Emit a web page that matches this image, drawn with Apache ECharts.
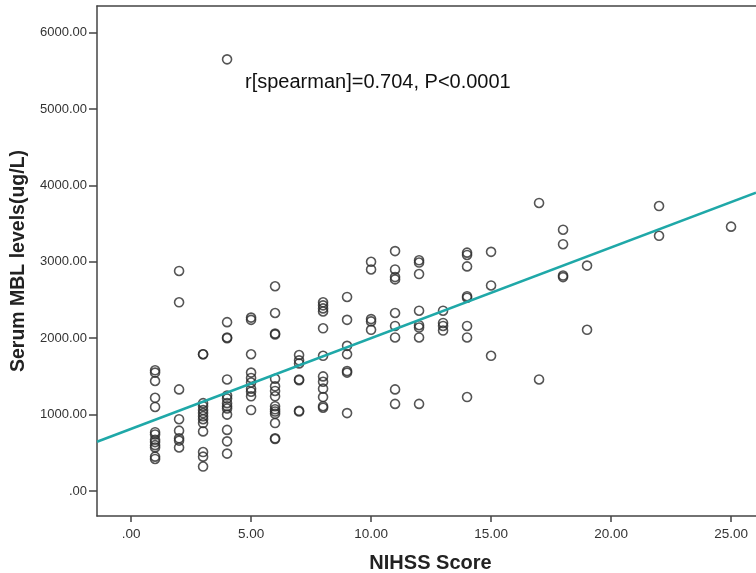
<!DOCTYPE html>
<html>
<head>
<meta charset="utf-8">
<script src="https://cdn.jsdelivr.net/npm/echarts@6/dist/echarts.min.js"></script>
<style>
html,body{margin:0;padding:0;background:#fff;}
#chart{width:756px;height:573px;}
</style>
</head>
<body>
<div id="chart"></div>
<script>
// NIHSS score groups and serum MBL levels (ug/L) per group
const nihssScores = [1, 2, 3, 4, 5, 6, 7, 8, 9, 10, 11, 12, 13, 14, 15, 17, 18, 19, 22, 25];
const mblLevels = [
  [1580, 1550, 1440, 1220, 1100, 770, 740, 670, 640, 600, 570, 450, 420],
  [2880, 2470, 1330, 940, 790, 690, 660, 570],
  [1790, 1790, 1150, 1110, 1060, 1020, 980, 940, 890, 780, 510, 450, 320],
  [5650, 2210, 2010, 2000, 1460, 1250, 1210, 1150, 1110, 1080, 1000, 800, 650, 490],
  [2270, 2240, 1790, 1550, 1480, 1420, 1340, 1300, 1240, 1060],
  [2680, 2330, 2060, 2050, 1470, 1370, 1310, 1240, 1110, 1070, 1040, 1010, 890, 690, 680],
  [1780, 1710, 1670, 1460, 1450, 1050, 1040],
  [2470, 2430, 2390, 2350, 2130, 1770, 1500, 1430, 1340, 1230, 1110, 1090],
  [2540, 2240, 1900, 1790, 1570, 1550, 1020],
  [3000, 2900, 2250, 2220, 2110],
  [3140, 2900, 2800, 2770, 2330, 2160, 2010, 1330, 1140],
  [3020, 2990, 2840, 2360, 2170, 2140, 2010, 1140],
  [2360, 2200, 2160, 2100],
  [3120, 3090, 2940, 2550, 2530, 2160, 2010, 1230],
  [3130, 2690, 1770],
  [3770, 1460],
  [3420, 3230, 2820, 2800],
  [2950, 2110],
  [3730, 3340],
  [3460]
];
// Linear fit line
const fitIntercept = 813;
const fitSlope = 118.7;
// Axis ranges and ticks
const xRange = [-1.42, 26.04];
const yRange = [-327, 6348];
const xTicks = [0, 5, 10, 15, 20, 25];
const yTicks = [0, 1000, 2000, 3000, 4000, 5000, 6000];
const annotationText = 'r[spearman]=0.704, P<0.0001';

function fmt(v) {
  const s = Number(v).toFixed(2);
  return s.startsWith('0.') ? s.slice(1) : s;
}

const points = [];
nihssScores.forEach((s, i) => mblLevels[i].forEach(v => points.push([s, v])));
const fitData = [
  [xRange[0], fitIntercept + fitSlope * xRange[0]],
  [xRange[1], fitIntercept + fitSlope * xRange[1]]
];

const FONT = 'Liberation Sans, Arial, sans-serif';
const chart = echarts.init(document.getElementById('chart'), null, {renderer: 'canvas'});
chart.setOption({
  animation: false,
  backgroundColor: '#fff',
  grid: {left: 97, right: 0, top: 6, bottom: 57, containLabel: false, outerBoundsMode: 'none'},
  xAxis: [{
    type: 'value',
    min: xRange[0], max: xRange[1],
    name: 'NIHSS Score',
    nameLocation: 'middle',
    nameGap: 37,
    nameTextStyle: {fontFamily: FONT, fontSize: 20, fontWeight: 'bold', color: '#222', padding: [0, 0, 0, 8]},
    axisLine: {show: true, onZero: false, lineStyle: {color: '#444', width: 1.5}},
    axisTick: {show: true, length: 6, customValues: xTicks, lineStyle: {color: '#444', width: 1.5}},
    axisLabel: {customValues: xTicks, formatter: fmt, fontFamily: FONT, fontSize: 13.5, color: '#333', margin: 11},
    splitLine: {show: false}
  }, {
    type: 'value', position: 'top',
    min: xRange[0], max: xRange[1],
    axisLine: {show: true, onZero: false, lineStyle: {color: '#444', width: 1.5}},
    axisTick: {show: false}, axisLabel: {show: false}, splitLine: {show: false}
  }],
  yAxis: {
    type: 'value',
    min: yRange[0], max: yRange[1],
    name: 'Serum MBL levels(ug/L)',
    nameLocation: 'middle',
    nameRotate: 90,
    nameGap: 68,
    nameTextStyle: {fontFamily: FONT, fontSize: 19.5, fontWeight: 'bold', color: '#222'},
    axisLine: {show: true, onZero: false, lineStyle: {color: '#444', width: 1.5}},
    axisTick: {show: true, length: 8, customValues: yTicks, lineStyle: {color: '#444', width: 1.5}},
    axisLabel: {customValues: yTicks, formatter: fmt, fontFamily: FONT, fontSize: 13, color: '#333', margin: 10},
    splitLine: {show: false}
  },
  graphic: [{
    type: 'text',
    left: 245, top: 72,
    style: {text: annotationText, font: '20px ' + FONT, fill: '#111'}
  }],
  series: [{
    type: 'scatter',
    data: points,
    symbol: 'circle',
    symbolSize: 9,
    itemStyle: {color: 'rgba(0,0,0,0)', borderColor: '#2a2a2a', borderWidth: 1.6},
    z: 2
  }, {
    type: 'line',
    data: fitData,
    symbol: 'none',
    lineStyle: {color: '#1fa8a8', width: 2.5},
    z: 3
  }]
});
</script>
</body>
</html>
